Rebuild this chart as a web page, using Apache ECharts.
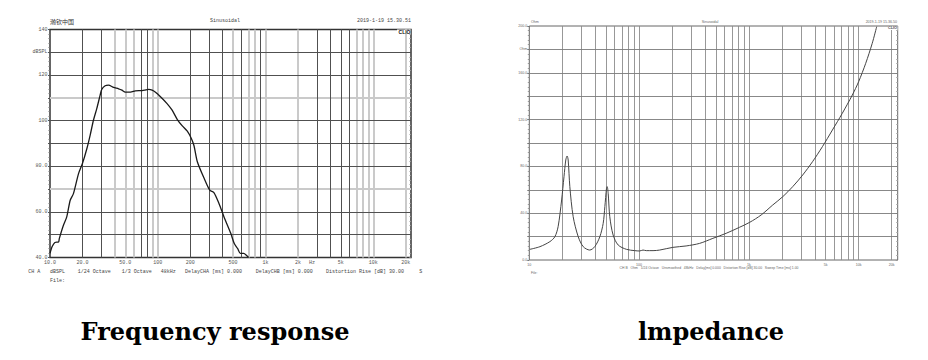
<!DOCTYPE html>
<html><head><meta charset="utf-8">
<script src="https://cdn.jsdelivr.net/npm/echarts@6/dist/echarts.min.js"></script>
<style>html,body{margin:0;padding:0;background:#fff}#c{width:928px;height:360px}</style>
</head><body><div id="c"></div>
<script>
// ---------- Frequency response (dBSPL vs Hz) ----------
const frFreq = [10, 10.45, 11.1, 12.0, 12.2, 13.3, 14.3, 15.4, 16.5, 18.4, 20, 22, 23.6, 25.3, 27.2, 29.2, 30.2, 32.5, 34.9, 38.9, 43.3, 46.5, 50, 55.8, 62, 71.5, 82.5, 88.6, 95.3, 106, 122, 136, 152, 169, 188, 205, 217, 233, 270, 304, 332, 370, 412, 477, 513, 552, 585, 629, 663, 697];
const frSpl = [41.8, 44.7, 46.6, 46.8, 48.3, 54, 57.8, 65.1, 68, 76.8, 81.2, 87.8, 93.7, 100.2, 105.4, 111.2, 113.7, 115.3, 115.6, 114.6, 114, 113.4, 112.5, 112.5, 113.1, 113.2, 113.7, 113.4, 112.5, 110.5, 107.5, 104.6, 100.5, 97.7, 95.4, 92.2, 89, 82, 74.6, 69.5, 68.5, 63.7, 57.8, 50.5, 46.1, 43.9, 41.8, 41.8, 41, 40];
const frXTickVals = [10, 20, 50, 100, 200, 500, 1000, 2000, 2700, 5000, 10000, 20000];
const frXTickText = ['10.0', '20.0', '50.0', '100', '200', '500', '1k', '2k', 'Hz', '5k', '10k', '20k'];
const frYTickVals = [140, 130, 120, 100, 80, 60, 40];
const frYTickText = ['140', 'dBSPL', '120', '100', '80.0', '60.0', '40.0'];
const frDarkFreqs = [20, 30, 70, 80, 200, 300, 400, 600, 900, 3000, 4000, 5000, 6000];
const frLightFreqs = [40, 50, 60, 90, 100, 500, 700, 800, 1000, 2000, 7000, 8000, 9000, 10000, 20000];
const frDarkLevels = [50, 60, 80, 90, 100, 120, 130];
const frLightLevels = [70, 110];
const frFooter = ['CH A', 'dBSPL', '1/24 Octave', '1/3 Octave', '48kHz', 'DelayCHA [ms] 0.000', 'DelayCHB [ms] 0.000', 'Distortion Rise [dB] 30.00', 'S'];

// ---------- Impedance (Ohm vs Hz) ----------
const impFreq = [10.1, 12.5, 15.4, 17.1, 18.3, 19.7, 20.7, 21.5, 22.1, 22.6, 23.4, 25.1, 27.9, 31.0, 35.5, 39.5, 43.9, 47.1, 48.8, 50.5, 51.2, 52.3, 54.1, 58.0, 64.5, 76.8, 91.3, 101, 108.6, 116.4, 134, 154, 203, 268, 356, 470, 621, 820, 1018, 1295, 1650, 2036, 2510, 3090, 3800, 4680, 5770, 7100, 8760, 10000, 11600, 13300, 14600];
const impOhm = [9.1, 11.4, 15.7, 19.9, 28.5, 51.3, 71.2, 85.5, 88.9, 85.5, 62.7, 37.0, 19.9, 11.4, 8.5, 11.4, 19.9, 31.3, 45.6, 61.3, 62.7, 57.0, 37.0, 21.4, 12.8, 9.1, 8.0, 7.7, 8.5, 8.0, 8.0, 8.5, 10.8, 12.0, 14.2, 18.5, 22.8, 27.9, 32.2, 38.5, 47.0, 54.1, 62.7, 72.6, 84.0, 96.9, 111.1, 125.4, 141.0, 152.4, 168.1, 185.2, 199.4];
const impXTickVals = [10, 100, 1000, 5000, 10000, 20000];
const impXTickText = ['10', '100', '1k', '5k', '10k', '20k'];
const impYTickVals = [200, 180, 160, 120, 80, 40, 0];
const impYTickText = ['200.0', 'Ohm', '160.0', '120.0', '80.0', '40.0', '0.0'];
const impGridFreqs = [20, 30, 40, 50, 60, 70, 80, 90, 100, 200, 300, 400, 500, 600, 700, 800, 900, 1000, 2000, 3000, 4000, 5000, 6000, 7000, 8000, 9000, 10000, 20000];
const impGridLevels = [20, 40, 60, 80, 100, 120, 140, 160, 180];

const captions = ['Frequency response', 'lmpedance'];

const mono = '"Liberation Mono", "DejaVu Sans Mono", monospace';
const sans = '"Liberation Sans", Arial, sans-serif';
const smallMono = '5px ' + mono;

function labelFor(vals, texts, v) {
  const val = v < 6 ? Math.pow(10, v) : v;
  for (let i = 0; i < vals.length; i++) {
    if (Math.abs(Math.log10(vals[i]) - Math.log10(val)) < 0.005) return texts[i];
  }
  return '';
}
function yLabelFor(vals, texts, v) {
  const i = vals.indexOf(v);
  return i >= 0 ? texts[i] : '';
}

const chart = echarts.init(document.getElementById('c'), null, {renderer: 'svg', width: 928, height: 360});

const footerX = [28.3, 50, 77.7, 121.7, 160.7, 185, 255.7, 326, 419.3];

const option = {
  animation: false,
  backgroundColor: '#fff',
  grid: [
    {left: 50, top: 29.5, width: 361, height: 228, show: true, borderColor: '#333', borderWidth: 1.5, backgroundColor: 'transparent'},
    {left: 529.3, top: 26, width: 368.4, height: 234, show: true, borderColor: '#666', borderWidth: 1, backgroundColor: 'transparent'}
  ],
  xAxis: [
    {gridIndex: 0, type: 'log', logBase: 10, min: 10, max: 22400,
      axisLine: {show: false}, axisTick: {show: false}, splitLine: {show: false},
      axisLabel: {customValues: frXTickVals, formatter: v => labelFor(frXTickVals, frXTickText, v),
        fontSize: 5, fontFamily: mono, color: '#555', margin: 3, showMinLabel: true, showMaxLabel: true}},
    {gridIndex: 1, type: 'log', logBase: 10, min: 10, max: 22690,
      axisLine: {show: false}, axisTick: {show: false}, splitLine: {show: false},
      axisLabel: {customValues: impXTickVals, formatter: v => labelFor(impXTickVals, impXTickText, v),
        fontSize: 3.6, fontFamily: sans, color: '#666', margin: 2.5, showMinLabel: true, showMaxLabel: true}}
  ],
  yAxis: [
    {gridIndex: 0, type: 'value', min: 40, max: 140, interval: 10,
      axisLine: {show: false}, splitLine: {show: false},
      axisTick: {show: true, length: 2, lineStyle: {color: '#555'}},
      minorTick: {show: true, splitNumber: 5, length: 1.5, lineStyle: {color: '#777'}},
      axisLabel: {formatter: v => yLabelFor(frYTickVals, frYTickText, v), fontSize: 5, fontFamily: mono, color: '#555', margin: 2.5}},
    {gridIndex: 0, type: 'value', min: 40, max: 140, interval: 10, position: 'right',
      axisLine: {show: false}, splitLine: {show: false}, axisLabel: {show: false},
      axisTick: {show: true, inside: true, length: 2, lineStyle: {color: '#777'}},
      minorTick: {show: true, splitNumber: 5, length: 1.5, lineStyle: {color: '#999'}}},
    {gridIndex: 1, type: 'value', min: 0, max: 200, interval: 20,
      axisLine: {show: false}, splitLine: {show: false},
      axisTick: {show: true, length: 2, lineStyle: {color: '#777'}},
      minorTick: {show: true, splitNumber: 5, length: 1.5, lineStyle: {color: '#999'}},
      axisLabel: {formatter: v => yLabelFor(impYTickVals, impYTickText, v), fontSize: 3.6, fontFamily: sans, color: '#666', margin: 2}},
    {gridIndex: 1, type: 'value', min: 0, max: 200, interval: 20, position: 'right',
      axisLine: {show: false}, splitLine: {show: false}, axisLabel: {show: false},
      axisTick: {show: true, inside: true, length: 2, lineStyle: {color: '#999'}},
      minorTick: {show: true, splitNumber: 5, length: 1.5, lineStyle: {color: '#aaa'}}}
  ],
  series: [
    {type: 'line', xAxisIndex: 0, yAxisIndex: 0, data: [[10, 40]], symbol: 'none', lineStyle: {opacity: 0}, z: 1, silent: true,
      markLine: {silent: true, symbol: ['none', 'none'], label: {show: false}, animation: false,
        data: [].concat(
          frLightFreqs.map(f => ({xAxis: f, lineStyle: {color: '#cacaca', width: 2, type: 'solid'}})),
          frLightLevels.map(l => ({yAxis: l, lineStyle: {color: '#cacaca', width: 2, type: 'solid'}})),
          frDarkFreqs.map(f => ({xAxis: f, lineStyle: {color: '#505050', width: 1, type: 'solid'}})),
          frDarkLevels.map(l => ({yAxis: l, lineStyle: {color: '#505050', width: 1, type: 'solid'}}))
        )}},
    {type: 'line', xAxisIndex: 0, yAxisIndex: 0, data: frFreq.map((f, i) => [f, frSpl[i]]), symbol: 'none',
      smooth: 0.25, clip: true, lineStyle: {color: '#1a1a1a', width: 1.3}, z: 5},
    {type: 'line', xAxisIndex: 1, yAxisIndex: 2, data: [[10, 0]], symbol: 'none', lineStyle: {opacity: 0}, z: 1, silent: true,
      markLine: {silent: true, symbol: ['none', 'none'], label: {show: false}, animation: false,
        data: [].concat(
          impGridFreqs.map(f => ({xAxis: f, lineStyle: {color: '#8c8c8c', width: 0.9, type: 'solid'}})),
          impGridLevels.map(l => ({yAxis: l, lineStyle: {color: '#7a7a7a', width: 0.9, type: 'solid'}}))
        )}},
    {type: 'line', xAxisIndex: 1, yAxisIndex: 2, data: impFreq.map((f, i) => [f, impOhm[i]]), symbol: 'none',
      smooth: 0.3, clip: true, lineStyle: {color: '#444', width: 1}, z: 5}
  ],
  graphic: [
    {type: 'text', z: 100, x: 50, y: 21, style: {text: '瀚钦中国', font: '6px "Noto Sans CJK SC"', fill: '#333', textVerticalAlign: 'middle'}},
    {type: 'text', z: 100, x: 225, y: 21, style: {text: 'Sinusoidal', font: smallMono, fill: '#444', textAlign: 'center', textVerticalAlign: 'middle'}},
    {type: 'text', z: 100, x: 411, y: 21, style: {text: '2019-1-19 15.30.51', font: smallMono, fill: '#444', textAlign: 'right', textVerticalAlign: 'middle'}},
    {type: 'rect', z: 99, shape: {x: 397, y: 29.5, width: 13.5, height: 4.5}, style: {fill: '#fff'}},
    {type: 'text', z: 100, x: 410.5, y: 32, style: {text: 'CLIO', font: 'bold 5px ' + sans, fill: '#111', textAlign: 'right', textVerticalAlign: 'middle'}}
  ].concat(
    frFooter.map((t, i) => ({type: 'text', z: 100, x: footerX[i], y: 272, style: {text: t, font: smallMono, fill: '#444', textVerticalAlign: 'middle'}})),
    [
      {type: 'text', z: 100, x: 50, y: 281, style: {text: 'File:', font: smallMono, fill: '#444', textVerticalAlign: 'middle'}},
      {type: 'text', z: 100, x: 531, y: 22, style: {text: 'Ohm', font: '3.6px ' + sans, fill: '#666', textVerticalAlign: 'middle'}},
      {type: 'text', z: 100, x: 710, y: 22, style: {text: 'Sinusoidal', font: '3.6px ' + sans, fill: '#666', textAlign: 'center', textVerticalAlign: 'middle'}},
      {type: 'text', z: 100, x: 897, y: 22, style: {text: '2019-1-19 15.36.50', font: '3.6px ' + sans, fill: '#666', textAlign: 'right', textVerticalAlign: 'middle'}},
      {type: 'rect', z: 99, shape: {x: 888, y: 26.5, width: 9.5, height: 3.5}, style: {fill: '#fff'}},
      {type: 'text', z: 100, x: 897, y: 28.3, style: {text: 'CLIO', font: 'bold 3.8px ' + sans, fill: '#555', textAlign: 'right', textVerticalAlign: 'middle'}},
      {type: 'text', z: 100, x: 709, y: 267.5, style: {text: 'CH B   Ohm   1/24 Octave   Unsmoothed   48kHz   Delay[ms] 0.000   Distortion Rise [dB] 30.00   Sweep Time [ms] 1.00', font: '3.4px ' + sans, fill: '#666', textAlign: 'center', textVerticalAlign: 'middle'}},
      {type: 'text', z: 100, x: 531, y: 273, style: {text: 'File:', font: '3.4px ' + sans, fill: '#666', textVerticalAlign: 'middle'}},
      {type: 'text', z: 100, x: 215, y: 331, style: {text: captions[0], font: 'bold 24px "DejaVu Serif"', fill: '#000', textAlign: 'center', textVerticalAlign: 'middle'}},
      {type: 'text', z: 100, x: 711, y: 331, style: {text: captions[1], font: 'bold 24px "DejaVu Serif"', fill: '#000', textAlign: 'center', textVerticalAlign: 'middle'}}
    ]
  )
};
chart.setOption(option);
</script>
</body></html>
